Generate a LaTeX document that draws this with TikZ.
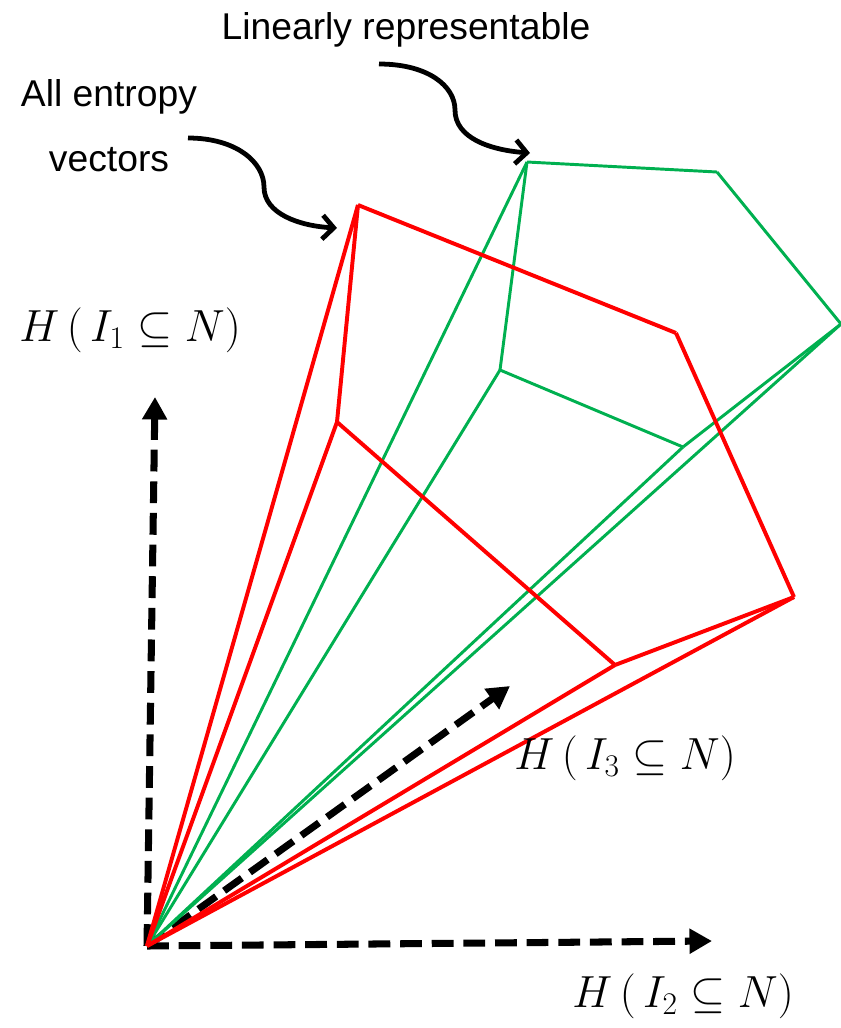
\RequirePackage{fix-cm}
\documentclass[tikz,border=0pt]{standalone}
\usepackage{fontspec}
\setsansfont{Liberation Sans}
\usetikzlibrary{arrows.meta}
\definecolor{lingreen}{RGB}{0,176,80}
\tikzset{
  redline/.style={red,line width=2.8pt},
  greenline/.style={lingreen,line width=2.1pt},
  axis/.style={line width=5pt,dash pattern=on 15.5pt off 7pt,-{Triangle[length=16pt,width=17pt]}},
  pointer/.style={line width=3.4pt,-{Straight Barb[length=8pt,width=17pt,line width=3.4pt]}},
  caption/.style={font=\sffamily\fontsize{26.5}{30}\selectfont},
  axislabel/.style={font=\fontsize{32}{38}\selectfont}
}
\begin{document}
\begin{tikzpicture}[x=0.025cm,y=-0.025cm]
\useasboundingbox (0,0) rectangle (841,1028);
\coordinate (o) at (147,946);
\coordinate (ra) at (358,205);
\coordinate (rb) at (337,422);
\coordinate (rc) at (676,333);
\coordinate (rd) at (794,597);
\coordinate (re) at (615,665);
\coordinate (ga) at (527,162);
\coordinate (gb) at (717,172);
\coordinate (gc) at (841,324);
\coordinate (gd) at (500,370);
\coordinate (ge) at (683,447);
\coordinate (up) at (155,397);
\coordinate (right) at (712,941);
\coordinate (deep) at (510,686);
\draw[axis] (o)--(up);
\draw[axis] (o)--(right);
\draw[axis] (o)--(deep);
\foreach \p/\q in {o/ga,o/gd,o/gc,o/ge,ga/gb,gb/gc,ga/gd,gd/ge,ge/gc}
  \draw[greenline] (\p)--(\q);
\foreach \p/\q in {o/ra,o/rb,ra/rb,rb/re,ra/rc,rc/rd,rd/re,o/re,o/rd}
  \draw[redline] (\p)--(\q);
\node[axislabel] (hone) at (130,330) {$H\,\bigl(\,I_1\subseteq N\bigr)$};
\node[axislabel] (hthree) at (625,758) {$H\,\bigl(\,I_3\subseteq N\bigr)$};
\node[axislabel] (htwo) at (683,996) {$H\,\bigl(\,I_2\subseteq N\bigr)$};
\node[caption] (linrep) at (406,30) {Linearly representable};
\node[caption] (allent) at (109,97) {All entropy};
\node[caption] (vect) at (109,160) {vectors};
\coordinate (linfrom) at (379,64);
\coordinate (allfrom) at (188,138);
\draw[pointer] (linfrom) .. controls (428,64) and (455,86) .. (455,110)
  .. controls (455,138) and (490,150) .. (530,153);
\draw[pointer] (allfrom) .. controls (236,138) and (264,162) .. (264,187)
  .. controls (264,214) and (300,226) .. (337,228);
\end{tikzpicture}
\end{document}
